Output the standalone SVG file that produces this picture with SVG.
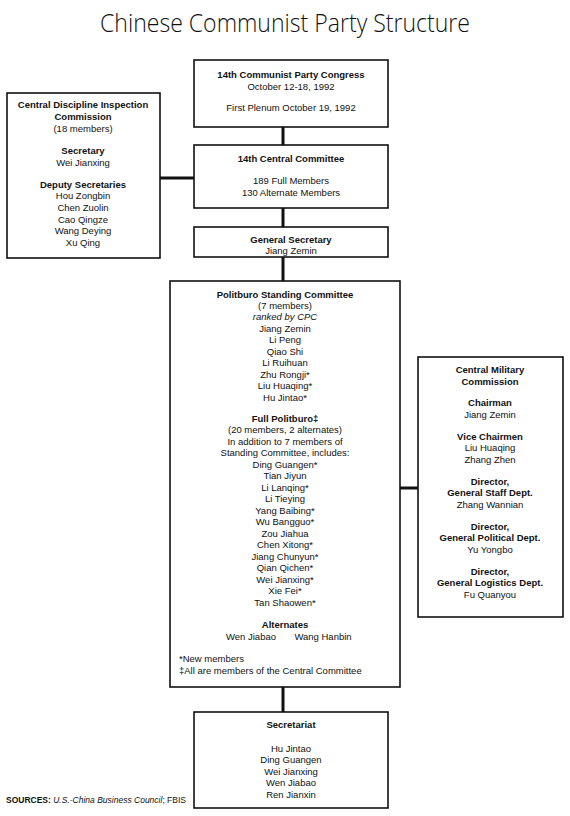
<svg xmlns="http://www.w3.org/2000/svg" width="570" height="816" viewBox="0 0 570 816">
<style>
text{font-family:"Liberation Sans",Arial,sans-serif;font-size:9.5px;fill:#111;text-anchor:middle}
.b{font-weight:bold}
.i{font-style:italic}
.l{text-anchor:start}
.box{fill:#fff;stroke:#111;stroke-width:1.6}
.con{stroke:#111;stroke-width:3;fill:none}
.title{font-family:"Open Sans","Liberation Sans",sans-serif;font-size:25px;font-weight:300}
</style>
<rect width="570" height="816" fill="#fff"/>
<text class="title" x="285" y="32" textLength="370" lengthAdjust="spacingAndGlyphs">Chinese Communist Party Structure</text>
<g id="connectors">
<line class="con" x1="283" y1="127" x2="283" y2="145"/>
<line class="con" x1="160" y1="178" x2="194" y2="178"/>
<line class="con" x1="283" y1="208" x2="283" y2="227"/>
<line class="con" x1="283" y1="257" x2="283" y2="281"/>
<line class="con" x1="400" y1="488" x2="418" y2="488"/>
<line class="con" x1="283" y1="687" x2="283" y2="712"/>
</g>
<g id="congress">
<rect class="box" x="194" y="60" width="194" height="67"/>
<text class="b" x="291" y="78">14th Communist Party Congress</text>
<text x="291" y="90">October 12-18, 1992</text>
<text x="291" y="111">First Plenum October 19, 1992</text>
</g>
<g id="discipline">
<rect class="box" x="7" y="93" width="153" height="165"/>
<text class="b" x="83" y="108">Central Discipline Inspection</text>
<text class="b" x="83" y="120">Commission</text>
<text x="83" y="132">(18 members)</text>
<text class="b" x="83" y="154">Secretary</text>
<text x="83" y="166">Wei Jianxing</text>
<text class="b" x="83" y="188">Deputy Secretaries</text>
<text x="83" y="199">Hou Zongbin</text>
<text x="83" y="211">Chen Zuolin</text>
<text x="83" y="223">Cao Qingze</text>
<text x="83" y="234">Wang Deying</text>
<text x="83" y="246">Xu Qing</text>
</g>
<g id="central-committee">
<rect class="box" x="194" y="145" width="194" height="63"/>
<text class="b" x="291" y="162">14th Central Committee</text>
<text x="291" y="184">189 Full Members</text>
<text x="291" y="196">130 Alternate Members</text>
</g>
<g id="general-secretary">
<rect class="box" x="194" y="227" width="194" height="30"/>
<text class="b" x="291" y="243">General Secretary</text>
<text x="291" y="254">Jiang Zemin</text>
</g>
<g id="politburo">
<rect class="box" x="170" y="281" width="230" height="406"/>
<text class="b" x="285" y="298">Politburo Standing Committee</text>
<text x="285" y="309">(7 members)</text>
<text class="i" x="285" y="320">ranked by CPC</text>
<text x="285" y="332">Jiang Zemin</text>
<text x="285" y="343">Li Peng</text>
<text x="285" y="355">Qiao Shi</text>
<text x="285" y="366">Li Ruihuan</text>
<text x="285" y="378">Zhu Rongji*</text>
<text x="285" y="389">Liu Huaqing*</text>
<text x="285" y="401">Hu Jintao*</text>
<text class="b" x="285" y="422">Full Politburo‡</text>
<text x="285" y="433">(20 members, 2 alternates)</text>
<text x="285" y="445">In addition to 7 members of</text>
<text x="285" y="456">Standing Committee, includes:</text>
<text x="285" y="468">Ding Guangen*</text>
<text x="285" y="479">Tian Jiyun</text>
<text x="285" y="491">Li Lanqing*</text>
<text x="285" y="502">Li Tieying</text>
<text x="285" y="514">Yang Baibing*</text>
<text x="285" y="525">Wu Bangguo*</text>
<text x="285" y="537">Zou Jiahua</text>
<text x="285" y="548">Chen Xitong*</text>
<text x="285" y="560">Jiang Chunyun*</text>
<text x="285" y="571">Qian Qichen*</text>
<text x="285" y="583">Wei Jianxing*</text>
<text x="285" y="594">Xie Fei*</text>
<text x="285" y="606">Tan Shaowen*</text>
<text class="b" x="285" y="628">Alternates</text>
<text x="251" y="640">Wen Jiabao</text>
<text x="323" y="640">Wang Hanbin</text>
<text class="l" x="179" y="662">*New members</text>
<text class="l" x="179" y="674">‡All are members of the Central Committee</text>
</g>
<g id="military">
<rect class="box" x="418" y="357" width="145" height="260"/>
<text class="b" x="490" y="373">Central Military</text>
<text class="b" x="490" y="385">Commission</text>
<text class="b" x="490" y="406">Chairman</text>
<text x="490" y="418">Jiang Zemin</text>
<text class="b" x="490" y="440">Vice Chairmen</text>
<text x="490" y="451">Liu Huaqing</text>
<text x="490" y="463">Zhang Zhen</text>
<text class="b" x="490" y="485">Director,</text>
<text class="b" x="490" y="496">General Staff Dept.</text>
<text x="490" y="508">Zhang Wannian</text>
<text class="b" x="490" y="530">Director,</text>
<text class="b" x="490" y="541">General Political Dept.</text>
<text x="490" y="553">Yu Yongbo</text>
<text class="b" x="490" y="575">Director,</text>
<text class="b" x="490" y="586">General Logistics Dept.</text>
<text x="490" y="598">Fu Quanyou</text>
</g>
<g id="secretariat">
<rect class="box" x="194" y="712" width="194" height="96"/>
<text class="b" x="291" y="728">Secretariat</text>
<text x="291" y="752">Hu Jintao</text>
<text x="291" y="763">Ding Guangen</text>
<text x="291" y="775">Wei Jianxing</text>
<text x="291" y="786">Wen Jiabao</text>
<text x="291" y="798">Ren Jianxin</text>
</g>
<text class="l b" x="6" y="803" style="font-size:8.5px">SOURCES: <tspan class="i" style="font-weight:normal">U.S.-China Business Council</tspan><tspan style="font-weight:normal">; FBIS</tspan></text>
</svg>
